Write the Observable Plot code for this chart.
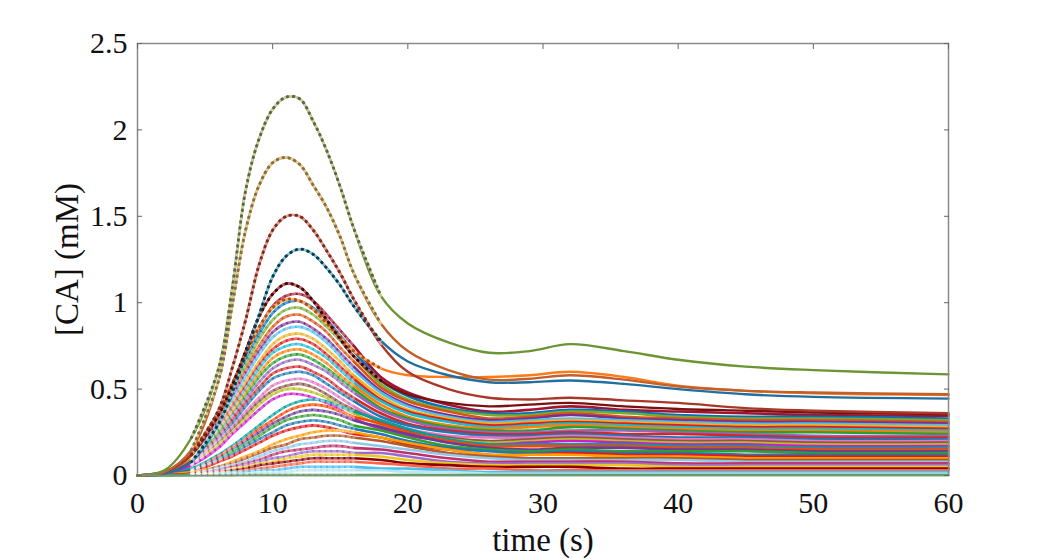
<!DOCTYPE html>
<html>
<head>
<meta charset="utf-8">
<script src="https://cdn.jsdelivr.net/npm/d3@7"></script>
<script src="https://cdn.jsdelivr.net/npm/@observablehq/plot@0.6"></script>
<style>
  html, body { margin: 0; padding: 0; background: #fff; }
  #chart { width: 1049px; height: 559px; }
</style>
</head>
<body>
<div id="chart"></div>
<script>
// time samples (s)
const time = [0,2,4,6,7,8,9,10,11,12,13,14,15,16,18,20,23,26,29,32,36,40,45,50,60];
const xTicks = [0,10,20,30,40,50,60];
const yTicks = [0,0.5,1,1.5,2,2.5];
const xLabel = "time (s)";
const yLabel = "[CA] (mM)";

// distinct high curves
const c1 = [0,0.03,0.22,0.62,1.08,1.65,1.95,2.12,2.19,2.18,2.05,1.88,1.67,1.43,1.04,0.88,0.77,0.71,0.72,0.76,0.72,0.67,0.63,0.61,0.585];
const c2 = [0,0.02,0.15,0.55,0.98,1.42,1.68,1.81,1.84,1.80,1.68,1.55,1.38,1.17,0.88,0.72,0.61,0.555,0.56,0.58,0.555,0.515,0.49,0.48,0.47];
const c3 = [0,0.02,0.12,0.38,0.62,0.90,1.22,1.42,1.50,1.50,1.42,1.30,1.17,1.02,0.76,0.60,0.50,0.45,0.44,0.45,0.435,0.42,0.39,0.375,0.36];
const c4 = [0,0.01,0.08,0.30,0.48,0.70,0.93,1.15,1.27,1.31,1.28,1.20,1.10,0.98,0.78,0.66,0.58,0.54,0.54,0.55,0.53,0.50,0.47,0.455,0.445];
const c5 = [0,0.02,0.12,0.35,0.52,0.72,0.92,1.05,1.11,1.09,1.01,0.90,0.79,0.69,0.55,0.47,0.42,0.40,0.41,0.42,0.40,0.385,0.375,0.365,0.355];
const c6 = [0,0.02,0.13,0.37,0.53,0.70,0.86,0.97,1.02,1.01,0.96,0.88,0.80,0.72,0.62,0.58,0.57,0.57,0.58,0.60,0.57,0.52,0.49,0.475,0.465];

// the dense bundle of lower curves
const b01 = [0,.02,.13,.37,.53,.69,.85,.98,1.04,1.05,1.01,.93,.84,.75,.57,.48,.41,.37,.38,.40,.38,.37,.36,.35,.345];
const b02 = [0,.02,.12,.35,.51,.67,.82,.94,1.00,1.01,.97,.90,.81,.72,.55,.46,.39,.36,.36,.38,.37,.35,.34,.34,.33];
const b03 = [0,.02,.12,.34,.49,.64,.79,.90,.96,.97,.93,.86,.78,.69,.53,.44,.38,.35,.35,.37,.36,.34,.33,.33,.32];
const b04 = [0,.02,.11,.33,.47,.61,.75,.86,.92,.93,.89,.83,.74,.66,.51,.43,.37,.33,.34,.36,.34,.33,.32,.32,.31];
const b05 = [0,.02,.11,.31,.45,.59,.72,.83,.88,.89,.85,.79,.71,.63,.49,.41,.35,.32,.33,.35,.33,.32,.31,.31,.30];
const b06 = [0,.02,.10,.30,.43,.57,.70,.80,.85,.86,.83,.77,.69,.61,.48,.40,.34,.31,.32,.33,.32,.31,.30,.30,.29];
const b07 = [0,.02,.10,.29,.41,.54,.66,.76,.81,.82,.79,.73,.66,.58,.46,.38,.33,.30,.31,.32,.31,.30,.29,.29,.28];
const b08 = [0,.02,.09,.28,.40,.52,.64,.73,.78,.79,.76,.70,.63,.56,.44,.37,.32,.29,.30,.31,.30,.29,.28,.28,.27];
const b09 = [0,.02,.09,.27,.38,.50,.62,.71,.75,.76,.73,.68,.61,.54,.43,.36,.31,.28,.29,.30,.29,.28,.27,.27,.26];
const b10 = [0,.01,.09,.26,.37,.48,.59,.68,.72,.73,.70,.65,.58,.52,.41,.34,.29,.27,.28,.29,.28,.27,.26,.26,.25];
const b11 = [0,.01,.08,.25,.35,.46,.57,.65,.69,.70,.67,.62,.56,.50,.39,.33,.28,.26,.26,.28,.27,.26,.25,.25,.24];
const b12 = [0,.01,.08,.23,.34,.44,.54,.62,.66,.67,.64,.60,.54,.48,.38,.32,.27,.25,.25,.26,.26,.25,.24,.23,.23];
const b13 = [0,.01,.08,.22,.32,.42,.51,.59,.62,.63,.60,.56,.50,.45,.36,.30,.26,.24,.24,.25,.24,.24,.23,.22,.22];
const b14 = [0,.01,.07,.21,.30,.40,.49,.56,.59,.60,.58,.53,.48,.43,.34,.29,.25,.23,.23,.24,.23,.22,.22,.21,.21];
const b15 = [0,.01,.07,.20,.28,.37,.45,.52,.55,.56,.54,.50,.45,.40,.32,.27,.23,.22,.22,.23,.22,.21,.21,.20,.20];
const b16 = [0,.01,.06,.19,.27,.35,.43,.49,.52,.53,.51,.47,.42,.38,.31,.26,.22,.20,.21,.22,.21,.20,.20,.19,.19];
const b17 = [0,.01,.06,.18,.25,.33,.41,.47,.50,.50,.48,.45,.40,.36,.29,.24,.21,.19,.20,.21,.20,.19,.19,.18,.18];
const b18 = [0,.01,.06,.16,.24,.31,.38,.44,.47,.47,.45,.42,.38,.33,.27,.23,.20,.18,.19,.20,.19,.18,.18,.17,.17];
const b19 = [0,.005,.04,.12,.17,.23,.29,.35,.40,.43,.44,.43,.40,.37,.32,.27,.21,.18,.18,.18,.18,.17,.17,.16,.16];
const b20 = [0,.005,.03,.11,.16,.21,.27,.32,.37,.40,.41,.40,.37,.34,.30,.25,.20,.17,.17,.17,.17,.16,.16,.15,.15];
const b21 = [0,.005,.03,.10,.15,.20,.25,.30,.34,.37,.38,.37,.35,.32,.28,.24,.19,.16,.15,.16,.16,.15,.15,.14,.14];
const b22 = [0,.005,.03,.09,.14,.18,.23,.28,.32,.34,.35,.34,.32,.29,.26,.22,.17,.15,.14,.15,.14,.14,.14,.13,.13];
const b23 = [0,.005,.03,.09,.12,.17,.21,.25,.29,.31,.32,.31,.29,.27,.24,.20,.16,.14,.13,.14,.13,.13,.12,.12,.12];
const b24 = [0,.004,.02,.08,.11,.15,.19,.23,.26,.28,.29,.28,.26,.24,.22,.18,.15,.12,.12,.13,.12,.12,.11,.11,.11];
const b25 = [0,.004,.02,.05,.08,.11,.14,.18,.21,.23,.25,.26,.26,.25,.22,.19,.15,.12,.12,.12,.11,.11,.10,.10,.10];
const b26 = [0,.003,.01,.05,.07,.10,.13,.16,.18,.21,.22,.23,.23,.22,.20,.17,.13,.11,.10,.10,.10,.10,.09,.09,.09];
const b27 = [0,.003,.01,.04,.06,.08,.11,.14,.16,.18,.19,.20,.20,.19,.17,.15,.12,.10,.09,.09,.09,.09,.08,.08,.08];
const b28 = [0,.002,.01,.03,.05,.07,.09,.12,.14,.15,.16,.17,.17,.16,.15,.13,.10,.08,.08,.08,.08,.07,.07,.07,.07];
const b29 = [0,.002,.01,.03,.04,.06,.08,.10,.11,.13,.14,.14,.14,.13,.13,.11,.08,.07,.07,.07,.07,.06,.06,.06,.06];
const b30 = [0,.002,.01,.02,.04,.05,.07,.08,.10,.11,.12,.12,.12,.12,.11,.09,.07,.06,.06,.06,.06,.05,.05,.05,.05];
const b31 = [0,.002,.01,.02,.03,.04,.06,.07,.08,.09,.10,.10,.10,.10,.09,.07,.06,.05,.05,.05,.04,.04,.04,.04,.04];
const b32 = [0,.001,.005,.02,.02,.03,.04,.05,.06,.07,.08,.08,.08,.08,.07,.06,.04,.04,.03,.03,.03,.03,.03,.03,.03];
const b33 = [0,.001,.004,.01,.02,.02,.03,.03,.04,.05,.05,.05,.05,.05,.04,.04,.03,.02,.02,.02,.02,.02,.02,.02,.02];
const b34 = [0,.001,.003,.01,.01,.01,.02,.02,.02,.03,.03,.03,.03,.03,.03,.02,.02,.01,.01,.01,.01,.01,.01,.01,.01];
const b35 = [0,.001,.002,.002,.002,.003,.003,.003,.003,.003,.003,.003,.003,.003,.003,.003,.003,.003,.003,.003,.003,.003,.003,.003,.003];

const bundle = [b01,b02,b03,b04,b05,b06,b07,b08,b09,b10,b11,b12,b13,b14,b15,b16,b17,b18,b19,b20,b21,b22,b23,b24,b25,b26,b27,b28,b29,b30,b31,b32,b33,b34,b35];
const bundleColors = ["#a2142f","#0072bd","#77ac30","#d95319","#7e2f8e","#4dbeee","#edb120","#e41a1c","#17becf","#ff7f0e",
  "#2ca02c","#9467bd","#d62728","#1f77b4","#e377c2","#8c564b","#bcbd22","#d01ad0","#00a0a0","#ff4500",
  "#6a3d9a","#33a02c","#1f78b4","#e31a1c","#ff9f00","#b15928","#8fc8e8","#c0306a","#9a6ad0","#e8c820",
  "#8b0000","#ff6347","#4dbeee","#b8e8f4","#3cb043"];

// highlighted upper curves: [values, base colour, light colour, dot colour]
const topCurves = [
  [c6, "#ff7a1a", "#ffb070", "#b05010"],
  [c5, "#7a1010", "#d06060", "#3a0a0a"],
  [c4, "#1f6fa0", "#7fc8d8", "#103850"],
  [c3, "#a8392a", "#e8a090", "#7a2a20"],
  [c2, "#c0602a", "#f0d080", "#7e7050"],
  [c1, "#6b9432", "#cdd58e", "#5b6552"]
];

const bundleRows = bundle.flatMap((vals, i) => time.map((t, j) => ({id: "b" + i, t, v: vals[j], color: bundleColors[i]})));
const topRows = topCurves.flatMap(([vals, base, light, dot], i) => time.map((t, j) => ({id: "c" + i, t, v: vals[j], base, light, dot})));

const curve = "catmull-rom";
const fmt = d => String(d);
const chart = Plot.plot({
  width: 1049,
  height: 559,
  marginLeft: 137,
  marginRight: 101,
  marginTop: 43,
  marginBottom: 84,
  style: {fontFamily: "'Liberation Serif', 'Times New Roman', serif", fontSize: "30px", color: "#111", background: "#fff"},
  x: {domain: [0, 60], label: null},
  y: {domain: [0, 2.5], label: null},
  marks: [
    Plot.line(bundleRows, {x: "t", y: "v", z: "id", stroke: "color", strokeWidth: 2.6, curve}),
    Plot.line(bundleRows.filter(d => d.t >= 4 && d.t <= 16), {x: "t", y: "v", z: "id", stroke: "white", strokeOpacity: 0.35, strokeWidth: 2.6, strokeDasharray: "2,4", curve}),
    Plot.line(topRows, {x: "t", y: "v", z: "id", stroke: "base", strokeWidth: 2.4, curve}),
    Plot.line(topRows.filter(d => d.t >= 4 && d.t <= 18), {x: "t", y: "v", z: "id", stroke: "light", strokeWidth: 2.4, curve}),
    Plot.line(topRows.filter(d => d.t >= 4 && d.t <= 18), {x: "t", y: "v", z: "id", stroke: "dot", strokeWidth: 3, strokeDasharray: "0.5,5.5", strokeLinecap: "round", curve}),
    Plot.frame({stroke: "#8a8a8a", strokeWidth: 1.5}),
    Plot.axisX(xTicks, {anchor: "bottom", tickSize: 0, tickPadding: 16, fontSize: 30, tickFormat: fmt, label: null}),
    Plot.axisX(xTicks, {anchor: "top", tickSize: -5, tickFormat: () => "", stroke: "#666", label: null}),
    Plot.axisY(yTicks, {anchor: "left", tickSize: -5, tickPadding: 15, fontSize: 30, stroke: "#666", tickFormat: fmt, label: null}),
    Plot.axisY(yTicks, {anchor: "right", tickSize: -5, tickFormat: () => "", stroke: "#666", label: null}),
    Plot.text([xLabel], {frameAnchor: "bottom", dy: 65, lineAnchor: "middle", fontSize: 33, fill: "#111"}),
    Plot.text([yLabel], {frameAnchor: "left", dx: -70, rotate: -90, lineAnchor: "middle", textAnchor: "middle", fontSize: 33, fill: "#111"})
  ]
});
document.getElementById("chart").appendChild(chart);
</script>
</body>
</html>
